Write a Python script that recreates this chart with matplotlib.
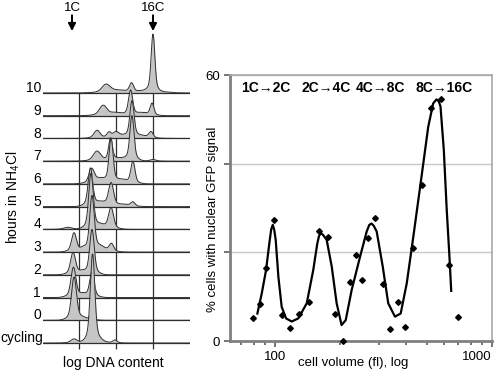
import matplotlib

matplotlib.use("Agg")
import matplotlib.pyplot as plt
import numpy as np
from matplotlib.ticker import FixedLocator, LogLocator, NullFormatter

plt.rcParams["font.family"] = ["Liberation Sans", "DejaVu Sans"]
plt.rcParams["mathtext.fontset"] = "custom"
plt.rcParams["mathtext.rm"] = "Liberation Sans"
plt.rcParams["mathtext.default"] = "regular"

# ---- painel esquerdo: histogramas de DNA (escala log2 de conteudo C) ----
ROW_LABELS = ["cycling", "0", "1", "2", "3", "4", "5", "6", "7", "8", "9", "10"]
# picos de cada linha: (posicao em log2 C, altura em linhas, largura)
ROW_PEAKS = [
    [(-0.05, 0.18, 0.15), (0.90, 3.88, 0.11), (2.05, 0.13, 0.10), (1.28, 0.07, 0.30)],
    [(-0.05, 1.89, 0.12), (0.87, 0.22, 0.10), (0.41, 0.09, 0.20)],
    [(-0.08, 1.32, 0.12), (0.87, 1.10, 0.11), (0.41, 0.13, 0.20)],
    [(-0.10, 0.97, 0.12), (0.87, 1.98, 0.11), (0.36, 0.13, 0.20)],
    [(-0.05, 0.84, 0.12), (0.87, 2.42, 0.11), (1.87, 0.35, 0.11),
     (1.33, 0.22, 0.25), (0.41, 0.13, 0.15)],
    [(-0.36, 0.09, 0.20), (0.82, 2.42, 0.11), (1.85, 0.93, 0.12), (1.33, 0.18, 0.25)],
    [(0.79, 1.67, 0.11), (1.85, 1.01, 0.12), (1.33, 0.18, 0.25),
     (2.51, 0.09, 0.30), (2.97, 0.18, 0.10)],
    [(0.85, 0.62, 0.13), (1.85, 1.94, 0.10), (2.97, 0.97, 0.10),
     (1.28, 0.22, 0.25), (2.41, 0.18, 0.25)],
    [(1.13, 0.44, 0.18), (1.82, 0.97, 0.09), (2.92, 1.98, 0.10),
     (2.31, 0.13, 0.30), (4.00, 0.07, 0.15)],
    [(1.13, 0.35, 0.15), (1.74, 0.22, 0.10), (2.10, 0.18, 0.13), (2.92, 1.59, 0.10),
     (2.31, 0.13, 0.35), (3.44, 0.11, 0.30), (3.90, 0.26, 0.10)],
    [(1.44, 0.44, 0.18), (2.85, 1.10, 0.10), (2.10, 0.13, 0.30),
     (3.44, 0.13, 0.25), (3.95, 0.53, 0.09)],
    [(1.59, 0.35, 0.20), (2.90, 0.40, 0.10), (2.21, 0.11, 0.40),
     (3.49, 0.09, 0.30), (4.00, 2.55, 0.09), (4.62, 0.04, 0.30)],
]
GRID_DNA = [0.205, 2.10, 4.0]
ARROW_DNA = [-0.154, 4.0]
ARROW_TEXT = ["1C", "16C"]

# ---- painel direito: % celulas com GFP nuclear vs volume ----
VOL_PTS = [79.4, 85.3, 90.9, 98.9, 107.7, 117.2, 129, 143, 160, 175.5, 189.5, 206,
           221, 236, 251.6, 267, 290, 315, 339, 370, 399, 434, 476, 522, 580, 635, 700]
GFP_PTS = [5.1, 8.3, 16.5, 27.4, 5.9, 2.9, 6.2, 8.7, 24.8, 23.4, 6.2, 0,
           13.2, 19.3, 13.8, 23.2, 27.7, 12.8, 2.8, 8.7, 3.1, 21.0, 35.3, 52.5, 54.6, 17.1, 5.5]
VOL_FIT = [82.9, 86.9, 90.9, 94.1, 96.0, 97.6, 99.2, 100.7, 103.6, 107.3, 112.4, 119.3,
           128.0, 140, 150, 156.6, 159.5, 162.3, 166, 173, 182.5, 192.3, 202.6, 211.7,
           225.5, 246.5, 264.5, 272, 278.4, 285, 294.1, 313.6, 332.5, 357, 379.4, 404.6,
           433.8, 473.4, 508.2, 535.7, 555, 569, 579, 599.6, 618.5, 636.6, 648.7]
GFP_FIT = [6.2, 10.8, 16.0, 22.0, 25.2, 26.2, 25.0, 22.8, 14.5, 7.7, 5.1, 4.4,
           5.1, 8.5, 16.0, 22.0, 23.7, 24.3, 24.0, 22.8, 16.8, 8.5, 3.6, 4.7,
           11.5, 19.0, 24.7, 26.2, 26.5, 26.0, 24.7, 16.8, 8.5, 5.5, 6.2, 13.0,
           23.5, 37.1, 48.3, 53.6, 54.5, 54.0, 52.9, 43.1, 29.6, 19.0, 11.3]
TRANSITIONS = ["1C\u21922C", "2C\u21924C", "4C\u21928C", "8C\u219216C"]

fig = plt.figure(figsize=(5.0, 3.76), dpi=100)

# ---------------- esquerda ----------------
ax = fig.add_axes([0.086, 0.0691, 0.294, 0.9309])
ax.set_xlim(-1.641, 5.897)
ax.set_ylim(-0.308, 15.09)
ax.axis("off")

u = np.linspace(-1.641, 5.897, 900)
cor_linha = "#2e2e2e"
ax.vlines(GRID_DNA, -0.27, len(ROW_LABELS) - 1, color=cor_linha, lw=0.9, zorder=1)
for r in range(len(ROW_LABELS) - 1, -1, -1):
    prof = np.zeros_like(u)
    for p, h, s in ROW_PEAKS[r]:
        z2 = ((u - p) / s) ** 2
        # pico estreito com base mais larga, como num histograma de citometria
        prof += h * (0.85 * np.exp(-0.5 * z2) + 0.15 * np.exp(-0.5 * z2 / 6.0))
    z = 2 + (len(ROW_LABELS) - r) * 0.1
    ax.fill_between(u, r, r + prof, where=prof > 0.004, color="#c6c6c6",
                    lw=0, zorder=z)
    ax.plot(u, r + prof, color=cor_linha, lw=0.7, zorder=z + 0.01)
    ax.plot([u[0], u[-1]], [r, r], color=cor_linha, lw=0.9, zorder=z + 0.02)
    xl = -1.615 if r == 0 else -1.74
    ax.text(xl, r + 0.04, ROW_LABELS[r], ha="right", va="baseline",
            fontsize=10, clip_on=False)

for xa, txt in zip(ARROW_DNA, ARROW_TEXT):
    ax.annotate("", xy=(xa, 13.72), xytext=(xa, 14.42),
                arrowprops=dict(arrowstyle="-|>", color="black", lw=1.4,
                                mutation_scale=11, shrinkA=0, shrinkB=0))
    ax.text(xa, 14.74, txt, ha="center", va="center", fontsize=9.5)

fig.text(113 / 500, 1 - 363 / 376, "log DNA content", ha="center", va="center",
         fontsize=10)
fig.text(13 / 500, 1 - 197 / 376, "hours in NH$_4$Cl", ha="center", va="center",
         rotation=90, fontsize=10)

# ---------------- direita ----------------
ax2 = fig.add_axes([230 / 500, 35 / 376, 262 / 500, 266 / 376])
ax2.set_xscale("log")
ax2.set_xlim(62, 1000)
ax2.set_ylim(0, 60)
ax2.plot(VOL_FIT, GFP_FIT, color="black", lw=1.6, zorder=3)
ax2.plot(VOL_PTS, GFP_PTS, "D", color="black", ms=2.9, zorder=4, clip_on=False)

ax2.set_yticks([0, 20, 40, 60])
ax2.set_yticklabels(["0", "", "", "60"])
ax2.xaxis.set_major_locator(FixedLocator([100, 1000]))
ax2.set_xticklabels(["100", "1000"])
ax2.get_xticklabels()[1].set_horizontalalignment("right")
ax2.xaxis.set_minor_locator(LogLocator(base=10, subs=np.arange(2, 10)))
ax2.xaxis.set_minor_formatter(NullFormatter())
ax2.tick_params(which="both", direction="out", color="#6a6a6a", width=1.3,
                labelsize=9.5, pad=3)
ax2.tick_params(which="major", length=4)
ax2.tick_params(which="minor", length=3)
ax2.yaxis.grid(True, color="#c8c8c8", lw=1)
ax2.set_axisbelow(True)
for lado in ["left", "bottom"]:
    ax2.spines[lado].set_color("#808080")
    ax2.spines[lado].set_linewidth(2)
for lado in ["top", "right"]:
    ax2.spines[lado].set_color("#a8a8a8")
    ax2.spines[lado].set_linewidth(1.2)

ax2.set_ylabel("% cells with nuclear GFP signal", fontsize=9.5, va="center")
ax2.yaxis.set_label_coords(-0.065, 0.457)
ax2.set_xlabel("cell volume (fl), log", fontsize=9.5, va="center")
ax2.xaxis.set_label_coords(0.469, -0.083)

for xc, txt in zip([0.137, 0.366, 0.576, 0.817], TRANSITIONS):
    ax2.text(xc, 0.951, txt, transform=ax2.transAxes, ha="center", va="center",
             fontsize=10, fontweight="bold")

fig.savefig("out.png", dpi=100)
